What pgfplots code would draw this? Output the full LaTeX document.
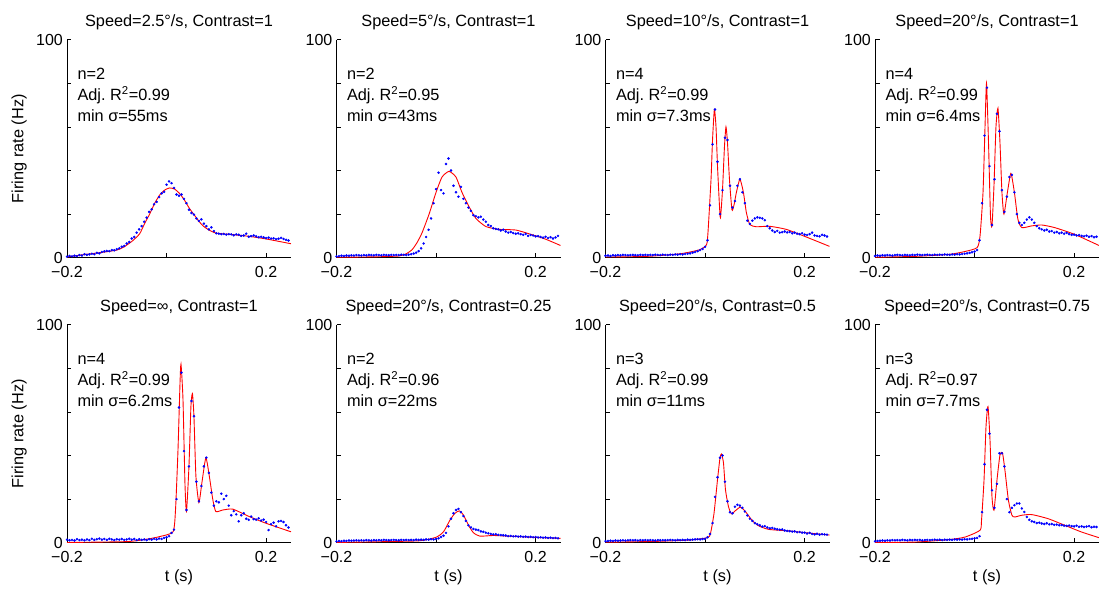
\documentclass[border=0pt]{standalone}
\usepackage{fontspec}
\setmainfont{Liberation Sans}
\usepackage{pgfplots}
\pgfplotsset{compat=1.18}
\usepackage{pgfplotstable}

% time bins and firing rates (dots), one column per panel
\pgfplotstableread{
t b1 b2 b3 b4 b5 b6 b7 b8
-0.200 0.5 0.6 0.9 0.8 1.4 0.6 0.7 0.6
-0.195 0.8 0.7 1.0 1.0 1.1 0.8 0.8 0.8
-0.190 0.6 0.9 0.8 0.9 1.3 0.7 0.9 0.9
-0.185 0.9 0.8 1.1 1.1 1.0 0.9 0.8 1.0
-0.180 0.7 1.0 1.0 1.0 1.6 0.8 1.0 0.9
-0.175 1.2 0.9 1.2 1.2 1.2 1.0 0.9 1.1
-0.170 1.0 1.1 1.1 1.1 1.4 0.9 1.0 1.0
-0.165 1.6 1.0 1.3 1.0 1.1 1.0 1.1 1.2
-0.160 1.3 1.2 1.2 1.2 1.5 1.1 1.0 1.1
-0.155 1.5 1.1 1.1 1.3 1.2 1.0 1.1 1.2
-0.150 1.8 1.0 1.2 1.2 1.8 1.1 1.2 1.1
-0.145 1.6 1.2 1.3 1.1 1.3 1.0 1.1 1.3
-0.140 2.2 1.1 1.2 1.3 1.6 1.2 1.2 1.2
-0.135 2.0 1.3 1.1 1.2 1.9 1.1 1.0 1.1
-0.130 2.6 1.2 1.3 1.1 1.4 1.0 1.2 1.3
-0.125 2.9 1.1 1.2 1.3 1.7 1.2 1.1 1.2
-0.120 3.1 1.3 1.3 1.2 1.3 1.1 1.2 1.3
-0.115 3.0 1.2 1.2 1.4 1.8 1.2 1.1 1.2
-0.110 3.5 1.1 1.3 1.3 1.5 1.1 1.2 1.3
-0.105 3.4 1.3 1.2 1.2 1.2 1.3 1.1 1.1
-0.100 3.9 1.2 1.4 1.3 1.6 1.2 1.0 1.2
-0.095 4.3 1.1 1.3 1.4 1.4 1.1 1.2 1.3
-0.090 5.0 1.3 1.2 1.3 1.7 1.2 1.1 1.2
-0.085 5.4 1.2 1.4 1.2 1.3 1.3 1.2 1.3
-0.080 6.5 1.3 1.3 1.4 1.5 1.2 1.1 1.4
-0.075 7.2 1.2 1.2 1.3 1.8 1.1 1.2 1.3
-0.070 8.8 1.4 1.4 1.4 1.4 1.3 1.3 1.4
-0.065 9.5 1.3 1.3 1.3 1.7 1.2 1.2 1.2
-0.060 11.5 1.2 1.5 1.5 1.2 1.3 1.1 1.4
-0.055 13.0 1.4 1.4 1.4 1.6 1.2 1.3 1.3
-0.050 14.5 1.6 1.6 1.3 1.3 1.3 1.2 1.4
-0.045 16.5 1.9 1.5 1.5 1.5 1.2 1.3 1.3
-0.040 18.4 2.3 1.7 1.4 1.2 1.4 1.2 1.5
-0.035 21.0 3.0 1.8 1.6 1.6 1.3 1.4 1.4
-0.030 22.2 4.3 2.0 1.5 1.4 1.4 1.3 1.5
-0.025 24.5 6.5 2.3 1.7 1.8 1.3 1.4 1.4
-0.020 25.6 9.5 2.6 1.8 1.5 1.5 1.5 1.6
-0.015 27.8 12.8 3.0 2.0 1.9 1.4 1.6 1.5
-0.010 29.5 18.0 3.5 2.2 1.7 1.6 1.5 1.7
-0.005 30.2 25.0 4.0 2.5 2.2 1.5 1.7 1.8
0.000 33.5 31.5 5.0 2.8 2.5 1.7 1.8 2.0
0.005 35.0 39.0 8.0 3.5 3.0 2.0 2.5 2.2
0.010 34.2 31.0 24.0 8.0 4.5 2.6 4.0 3.0
0.015 32.0 29.5 52.0 25.0 6.0 3.2 9.0 14.0
0.020 29.0 43.0 68.0 56.0 20.0 4.5 21.0 36.0
0.025 28.4 45.5 44.0 78.0 62.0 7.5 30.0 61.0
0.030 29.0 40.0 20.0 42.0 78.0 11.0 39.0 50.0
0.035 27.0 33.0 31.0 15.0 42.0 13.5 40.0 24.0
0.040 25.0 30.0 55.0 36.0 15.0 15.0 28.0 16.0
0.045 22.0 28.0 54.0 66.0 35.0 15.5 19.0 27.0
0.050 20.5 32.5 33.0 58.0 65.0 14.0 14.0 41.0
0.055 19.8 27.0 23.0 31.0 58.0 12.2 13.5 41.0
0.060 18.0 25.0 26.0 21.0 28.0 10.0 16.5 35.0
0.065 16.9 23.0 33.0 28.0 19.0 8.0 17.4 20.0
0.070 17.6 21.5 36.0 37.0 26.0 7.0 17.0 14.0
0.075 15.6 19.5 30.0 38.0 35.0 6.3 16.0 16.0
0.080 14.5 19.0 25.0 30.0 39.0 6.0 14.3 17.2
0.085 13.0 18.5 17.0 20.0 32.0 5.8 12.5 18.0
0.090 13.9 18.8 15.5 16.0 23.0 5.2 11.0 18.0
0.095 12.2 17.5 17.0 15.0 17.0 5.0 10.0 15.7
0.100 11.2 16.5 18.0 16.0 19.0 4.6 9.0 14.1
0.105 11.0 15.0 18.5 17.5 18.5 4.3 8.5 11.8
0.110 10.8 14.5 18.3 18.5 22.5 4.0 8.0 10.5
0.115 10.9 13.5 18.0 17.5 20.0 3.8 7.4 9.8
0.120 10.6 13.2 17.2 16.0 21.5 3.9 7.6 9.5
0.125 10.8 13.0 14.5 14.5 17.0 3.6 7.0 9.0
0.130 10.7 12.5 13.5 13.5 12.6 3.5 6.6 9.2
0.135 10.3 12.8 12.5 13.0 14.5 3.4 6.8 8.8
0.140 10.7 12.0 11.8 12.5 13.0 3.3 6.4 8.6
0.145 10.5 11.5 12.3 12.8 9.8 3.0 6.2 8.9
0.150 10.0 11.8 11.5 12.0 12.6 3.1 6.0 8.4
0.155 10.2 11.3 11.7 12.2 13.5 2.9 6.1 8.6
0.160 11.0 11.0 12.0 11.5 11.0 3.0 5.6 8.2
0.165 9.6 11.2 11.6 11.8 10.5 2.8 5.4 8.3
0.170 9.9 10.8 11.8 11.2 12.0 2.9 5.3 8.0
0.175 10.2 10.5 11.2 11.5 10.8 2.7 5.1 8.1
0.180 9.8 10.9 11.5 11.0 10.6 2.8 5.2 7.8
0.185 9.4 10.0 11.0 11.4 11.2 2.6 4.8 7.7
0.190 9.6 10.4 10.8 10.8 10.2 2.7 4.9 7.9
0.195 9.3 10.2 11.2 10.5 10.6 2.5 4.6 7.6
0.200 9.0 9.8 10.6 10.6 9.5 2.6 4.6 7.5
0.205 9.2 9.9 10.4 10.2 5.8 2.4 4.2 7.8
0.210 8.8 9.5 10.8 10.4 8.5 2.5 4.5 7.3
0.215 8.9 9.2 11.5 10.0 9.2 2.3 4.0 7.5
0.220 8.5 9.6 10.2 9.8 7.5 2.4 3.8 7.2
0.225 8.7 9.0 10.0 10.1 9.8 2.2 4.1 7.4
0.230 9.1 9.4 9.8 9.6 10.0 2.3 3.7 7.6
0.235 8.6 8.8 10.5 9.9 9.5 2.1 3.9 7.1
0.240 8.2 9.3 10.2 9.4 8.0 2.2 3.8 7.3
0.245 7.9 10.0 9.7 9.6 7.0 2.0 3.7 7.2
}\rates

\pgfplotsset{
  panel/.style={
    scale only axis, width=224bp, height=218bp,
    xmin=-0.2, xmax=0.25, ymin=0, ymax=100,
    axis x line*=bottom, axis y line*=left,
    axis line style={-, line width=0.8bp},
    tick align=inside, major tick length=4.5bp,
    tick style={black, line width=0.6bp},
    xtick={-0.2,0,0.2}, xticklabels={−0.2,,0.2},
    ytick={0,20,40,60,80,100}, yticklabels={0,,,,,100},
    ticklabel style={font=\fontsize{16bp}{19bp}\selectfont},
    xticklabel style={anchor=base, yshift=-20bp},
    yticklabel style={inner sep=0pt, xshift=-4bp},
    clip=false,
  },
  dots/.style={only marks, mark=*, mark size=1.05bp, color=blue},
  fit/.style={red, line width=0.9bp, smooth, tension=0.35},
}
\newcommand\fs{\fontsize{16.3bp}{19bp}\selectfont}
\newcommand\notes[4]{%
  \node[anchor=base, yshift=12.7bp] at (rel axis cs:0.5,1) {\fs #1};
  \node[anchor=base west, xshift=7bp, yshift=-40bp] at (rel axis cs:0,1) {\fs n=#2};
  \node[anchor=base west, xshift=7bp, yshift=-61bp] at (rel axis cs:0,1) {\fs Adj.\ R\textsuperscript{2}=#3};
  \node[anchor=base west, xshift=7bp, yshift=-82bp] at (rel axis cs:0,1) {\fs min σ=#4ms};
}
\newcommand\ylab{\node[anchor=base, xshift=-43.5bp, rotate=90] at (rel axis cs:0,0.5) {\fs Firing rate (Hz)};}
\newcommand\xlab{\node[anchor=base, yshift=-39bp] at (rel axis cs:0.5,0) {\fs t (s)};}

\begin{document}
\begin{tikzpicture}
\useasboundingbox (0,0) rectangle (1099bp,589bp);

% top row
\begin{axis}[panel, at={(67bp,331.3bp)}, anchor=south west]
\addplot[dots] table[x=t, y=b1] {\rates};
\addplot[fit] coordinates {(-0.2,0.3) (-0.17,1.3) (-0.134,2.3) (-0.1,3.5) (-0.085,5) (-0.068,7.8) (-0.054,11) (-0.044,15.7) (-0.034,20) (-0.024,24.9) (-0.014,28.7) (-0.004,31) (0.006,32) (0.016,31.5) (0.026,29.5) (0.036,26.4) (0.046,22.6) (0.056,19.5) (0.066,16.4) (0.076,14.1) (0.086,12.6) (0.099,11.3) (0.132,10.6) (0.166,9.8) (0.2,8.6) (0.25,6.4)};
\notes{Speed=2.5°/s, Contrast=1}{2}{0.99}{55}
\ylab
\end{axis}

\begin{axis}[panel, at={(336.5bp,331.3bp)}, anchor=south west]
\addplot[dots] table[x=t, y=b2] {\rates};
\addplot[fit] coordinates {(-0.2,0.2) (-0.12,0.4) (-0.074,0.8) (-0.06,1.8) (-0.048,3.7) (-0.038,7) (-0.028,11.5) (-0.014,20) (0,30) (0.012,37) (0.026,39.6) (0.04,37) (0.052,30) (0.066,23.5) (0.08,18) (0.1,14.3) (0.126,13) (0.16,12.7) (0.192,10.6) (0.22,8.5) (0.25,5.6)};
\notes{Speed=5°/s, Contrast=1}{2}{0.95}{43}
\end{axis}

\begin{axis}[panel, at={(605.5bp,331.3bp)}, anchor=south west]
\addplot[dots] table[x=t, y=b3] {\rates};
\addplot[fit] coordinates {(-0.2,0.3) (-0.117,0.6) (-0.05,1.8) (-0.01,3.7) (0.003,6) (0.006,12) (0.012,36) (0.015,54) (0.0187,68) (0.022,60) (0.025,42) (0.029,23.6) (0.031,18.3) (0.035,31) (0.039,51) (0.042,60) (0.045,53) (0.049,36) (0.054,22) (0.058,24) (0.063,30) (0.07,36) (0.077,30) (0.083,20.7) (0.09,15.2) (0.103,14.2) (0.13,14.4) (0.163,13) (0.2,9.8) (0.25,5.2)};
\notes{Speed=10°/s, Contrast=1}{4}{0.99}{7.3}
\end{axis}

\begin{axis}[panel, at={(875bp,331.3bp)}, anchor=south west]
\addplot[dots] table[x=t, y=b4] {\rates};
\addplot[fit] coordinates {(-0.2,0.2) (-0.12,0.6) (-0.052,1.5) (-0.02,2.8) (0.005,4.6) (0.011,10) (0.017,30) (0.021,60) (0.024,80) (0.028,53) (0.032,19) (0.035,14.6) (0.039,33) (0.043,60) (0.047,68.6) (0.051,53) (0.055,30) (0.059,20) (0.066,30) (0.073,38.7) (0.08,30) (0.087,17.7) (0.095,13.8) (0.115,14.6) (0.135,15) (0.161,13.8) (0.201,10.7) (0.25,5.6)};
\notes{Speed=20°/s, Contrast=1}{4}{0.99}{6.4}
\end{axis}

% bottom row
\begin{axis}[panel, at={(67bp,46.3bp)}, anchor=south west]
\addplot[dots] table[x=t, y=b5] {\rates};
\addplot[fit] coordinates {(-0.2,0.1) (-0.08,0.5) (-0.04,1.6) (-0.014,2.8) (0.013,5) (0.018,15) (0.023,42.7) (0.027,73) (0.029,81.9) (0.033,65.8) (0.037,27) (0.04,14.3) (0.045,35) (0.049,62.7) (0.052,68.4) (0.055,58) (0.059,30.4) (0.065,18.4) (0.071,27.5) (0.079,38.9) (0.086,30.4) (0.093,19.7) (0.099,14.3) (0.113,15) (0.133,15.4) (0.166,12) (0.2,8.9) (0.25,5)};
\notes{Speed=∞, Contrast=1}{4}{0.99}{6.2}
\ylab \xlab
\end{axis}

\begin{axis}[panel, at={(336.5bp,46.3bp)}, anchor=south west]
\addplot[dots] table[x=t, y=b6] {\rates};
\addplot[fit] coordinates {(-0.2,0.1) (-0.1,0.5) (-0.032,0.9) (0,2.5) (0.015,5) (0.028,10.4) (0.038,13.5) (0.047,14.6) (0.055,12.7) (0.065,8.1) (0.075,4.6) (0.088,3.0) (0.115,3.3) (0.155,2.9) (0.2,2.4) (0.25,2.0)};
\notes{Speed=20°/s, Contrast=0.25}{2}{0.96}{22}
\xlab
\end{axis}

\begin{axis}[panel, at={(605.5bp,46.3bp)}, anchor=south west]
\addplot[dots] table[x=t, y=b7] {\rates};
\addplot[fit] coordinates {(-0.2,0.2) (-0.1,0.6) (-0.032,1.2) (0.005,2.3) (0.011,4.3) (0.018,13.5) (0.025,28.9) (0.03,38.9) (0.033,40.7) (0.037,36.6) (0.041,24.3) (0.047,16.6) (0.053,13.2) (0.061,14.7) (0.071,16.3) (0.081,14.3) (0.095,10.1) (0.108,7.7) (0.128,6.1) (0.168,5.4) (0.201,4.6) (0.25,3.5)};
\notes{Speed=20°/s, Contrast=0.5}{3}{0.99}{11}
\xlab
\end{axis}

\begin{axis}[panel, at={(875bp,46.3bp)}, anchor=south west]
\addplot[dots] table[x=t, y=b8] {\rates};
\addplot[fit] coordinates {(-0.2,0.1) (-0.119,0.3) (-0.052,1.4) (-0.019,2.6) (0.011,5.7) (0.014,10.3) (0.019,28.7) (0.023,53.3) (0.027,62.5) (0.031,47.2) (0.035,21) (0.039,14.9) (0.045,28.7) (0.051,40.2) (0.056,41.3) (0.061,33.3) (0.068,19.5) (0.075,12.6) (0.081,11.8) (0.095,12.6) (0.115,12.9) (0.148,11) (0.181,8) (0.215,4.9) (0.25,2.3)};
\notes{Speed=20°/s, Contrast=0.75}{3}{0.97}{7.7}
\xlab
\end{axis}
\end{tikzpicture}
\end{document}
